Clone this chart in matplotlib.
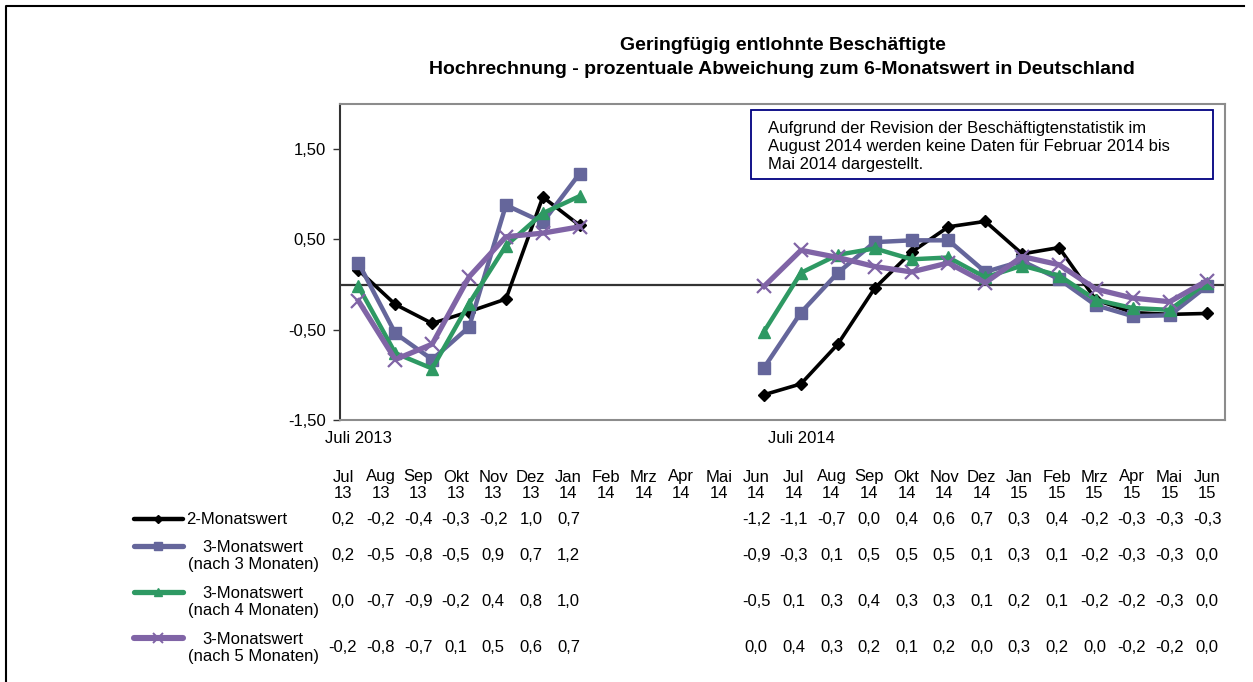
import numpy as np
import matplotlib
matplotlib.use("Agg")
import matplotlib.pyplot as plt
from matplotlib.lines import Line2D
from matplotlib.patches import Rectangle

plt.rcParams["font.family"] = ["Liberation Sans", "DejaVu Sans"]

# ---------------------------
# Data
# ---------------------------
nan = np.nan
months = ["Jul", "Aug", "Sep", "Okt", "Nov", "Dez", "Jan", "Feb", "Mrz", "Apr", "Mai", "Jun",
          "Jul", "Aug", "Sep", "Okt", "Nov", "Dez", "Jan", "Feb", "Mrz", "Apr", "Mai", "Jun"]
years = ["13"] * 6 + ["14"] * 12 + ["15"] * 6

wert_2m = [0.16, -0.22, -0.43, -0.30, -0.16, 0.97, 0.655, nan, nan, nan, nan,
           -1.22, -1.10, -0.66, -0.04, 0.36, 0.64, 0.70, 0.34, 0.41, -0.17, -0.31, -0.33, -0.32]
wert_3m_n3 = [0.24, -0.54, -0.83, -0.47, 0.88, 0.69, 1.23, nan, nan, nan, nan,
              -0.92, -0.31, 0.13, 0.47, 0.49, 0.49, 0.14, 0.26, 0.06, -0.23, -0.35, -0.34, -0.02]
wert_3m_n4 = [-0.02, -0.76, -0.93, -0.21, 0.43, 0.79, 0.98, nan, nan, nan, nan,
              -0.52, 0.13, 0.33, 0.40, 0.28, 0.30, 0.08, 0.21, 0.10, -0.17, -0.26, -0.28, 0.02]
wert_3m_n5 = [-0.18, -0.83, -0.66, 0.085, 0.53, 0.57, 0.64, nan, nan, nan, nan,
              -0.02, 0.38, 0.30, 0.20, 0.14, 0.24, 0.02, 0.31, 0.22, -0.05, -0.15, -0.19, 0.04]

# values as printed in the table below the chart
tab_2m = ["0,2", "-0,2", "-0,4", "-0,3", "-0,2", "1,0", "0,7", "", "", "", "",
          "-1,2", "-1,1", "-0,7", "0,0", "0,4", "0,6", "0,7", "0,3", "0,4", "-0,2", "-0,3", "-0,3", "-0,3"]
tab_3m_n3 = ["0,2", "-0,5", "-0,8", "-0,5", "0,9", "0,7", "1,2", "", "", "", "",
             "-0,9", "-0,3", "0,1", "0,5", "0,5", "0,5", "0,1", "0,3", "0,1", "-0,2", "-0,3", "-0,3", "0,0"]
tab_3m_n4 = ["0,0", "-0,7", "-0,9", "-0,2", "0,4", "0,8", "1,0", "", "", "", "",
             "-0,5", "0,1", "0,3", "0,4", "0,3", "0,3", "0,1", "0,2", "0,1", "-0,2", "-0,2", "-0,3", "0,0"]
tab_3m_n5 = ["-0,2", "-0,8", "-0,7", "0,1", "0,5", "0,6", "0,7", "", "", "", "",
             "0,0", "0,4", "0,3", "0,2", "0,1", "0,2", "0,0", "0,3", "0,2", "0,0", "-0,2", "-0,2", "0,0"]

labels = [["2-Monatswert"], ["3-Monatswert", "(nach 3 Monaten)"],
          ["3-Monatswert", "(nach 4 Monaten)"], ["3-Monatswert", "(nach 5 Monaten)"]]

# ---------------------------
# Styles
# ---------------------------
series = [
    (wert_2m, tab_2m, "#000000", "D", 6, 2.6),
    (wert_3m_n3, tab_3m_n3, "#65669B", "s", 9, 3.2),
    (wert_3m_n4, tab_3m_n4, "#2E9963", "^", 9, 3.2),
    (wert_3m_n5, tab_3m_n5, "#8064A6", "x", 10, 3.8),
]

W, H = 1253, 682
fig = plt.figure(figsize=(W / 100, H / 100), dpi=100)


def fx(px):
    return px / W


def fy(py):
    return 1 - py / H


ax = fig.add_axes([fx(340), fy(420), fx(885), 316 / H])
x = np.arange(len(months))

for i, (vals, _, col, mk, ms, lw) in enumerate(series):
    kw = dict(color=col, lw=lw, marker=mk, ms=ms, zorder=3 + i)
    if mk == "x":
        kw["mew"] = 1.6
    else:
        kw["mec"] = col
    ax.plot(x, vals, **kw)

ax.axhline(0, color="#333333", lw=1.6, zorder=2)
ax.set_xlim(-0.5, len(months) - 0.5)
ax.set_ylim(-1.5, 2.0)
ax.set_yticks([-1.5, -0.5, 0.5, 1.5])
ax.set_yticklabels(["-1,50", "-0,50", "0,50", "1,50"], fontsize=12)
ax.set_xticks([0, 12])
ax.set_xticklabels(["Juli 2013", "Juli 2014"], fontsize=12)
ax.tick_params(axis="x", length=0, pad=8)
ax.tick_params(axis="y", length=5, width=1, color="#333333", pad=5)
for side in ["top", "right", "bottom"]:
    ax.spines[side].set_color("#8c8c8c")
    ax.spines[side].set_linewidth(1.5)
ax.spines["left"].set_color("#333333")
ax.spines["left"].set_linewidth(1.5)

# Title
fig.text(fx(783), fy(46), "Geringfügig entlohnte Beschäftigte", ha="center", va="center",
         fontsize=14, fontweight="bold")
fig.text(fx(782), fy(69), "Hochrechnung - prozentuale Abweichung zum 6-Monatswert in Deutschland",
         ha="center", va="center", fontsize=14, fontweight="bold")

# Note box
fig.add_artist(Rectangle((fx(751), fy(179)), fx(462), (179 - 110) / H, transform=fig.transFigure,
                         fill=False, edgecolor="#000080", lw=1.3))
note = ["Aufgrund der Revision der Beschäftigtenstatistik im",
        "August 2014 werden keine Daten für Februar 2014 bis",
        "Mai 2014 dargestellt."]
for k, line in enumerate(note):
    fig.text(fx(768), fy(128 + 18 * k), line, ha="left", va="center", fontsize=12)

# ---------------------------
# Data table below the chart
# ---------------------------
col_x0, col_dx = 343, 37.57
for j, (m, yr) in enumerate(zip(months, years)):
    cx = fx(col_x0 + j * col_dx)
    fig.text(cx, fy(477), m, ha="center", va="center", fontsize=12)
    fig.text(cx, fy(493), yr, ha="center", va="center", fontsize=12)

row_y = [519, 555, 602, 648]
line_y = [519, 546, 592, 638]
for r, (vals, tab, col, mk, ms, lw) in enumerate(series):
    for j, t in enumerate(tab):
        if t:
            fig.text(fx(col_x0 + j * col_dx), fy(row_y[r]), t, ha="center", va="center", fontsize=12)
    kw = dict(color=col, lw=lw + 0.6, marker=mk, ms=ms * 0.65, markevery=[1])
    if mk == "x":
        kw["mew"] = 1.4
    fig.add_artist(Line2D([fx(134), fx(158), fx(183)], [fy(line_y[r])] * 3,
                          transform=fig.transFigure, solid_capstyle="round", **kw))
    if r == 0:
        fig.text(fx(186), fy(row_y[r]), labels[r][0], ha="left", va="center", fontsize=12)
    else:
        fig.text(fx(253), fy(row_y[r] - 8), labels[r][0], ha="center", va="center", fontsize=12)
        fig.text(fx(253), fy(row_y[r] + 9), labels[r][1], ha="center", va="center", fontsize=12)

# outer frame (left and top only visible)
fig.add_artist(Line2D([fx(6), fx(6), fx(1244)], [0, fy(6), fy(6)], transform=fig.transFigure,
                      color="black", lw=1.5))

fig.savefig("out.png", dpi=100)
